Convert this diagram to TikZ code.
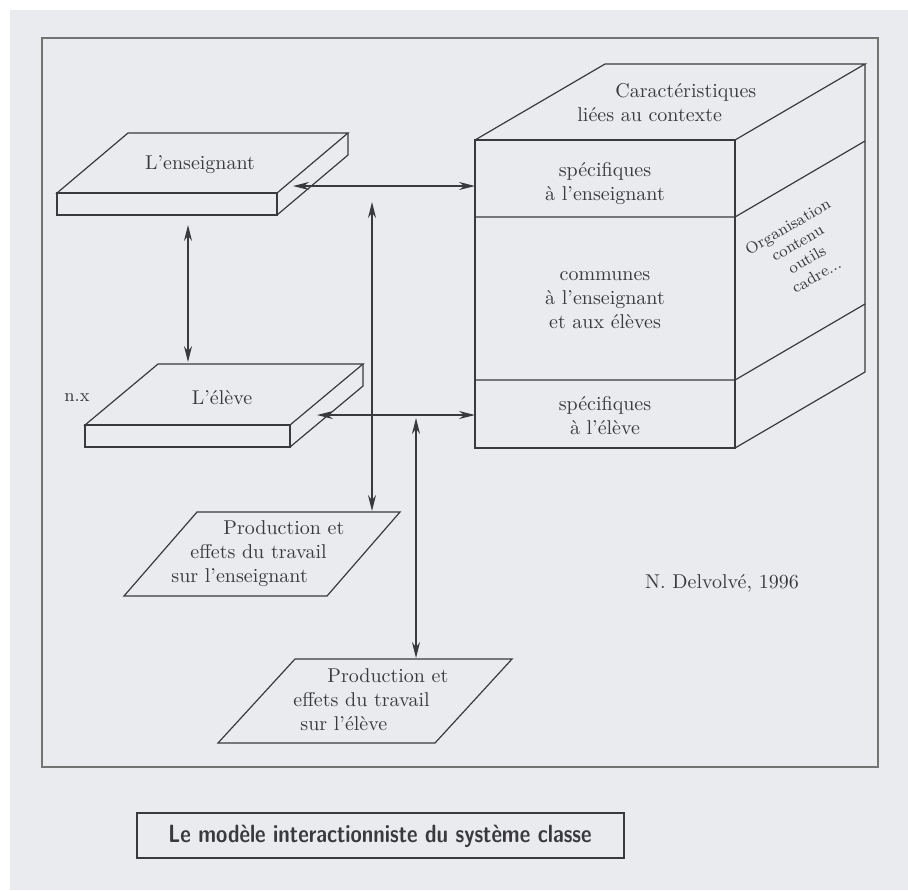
\documentclass[tikz,border=0pt]{standalone}
\usepackage{fontspec}
\usepackage{graphicx}
\usetikzlibrary{arrows.meta}
\definecolor{paper}{RGB}{233,235,238}
\definecolor{ink}{RGB}{58,58,60}

\begin{document}
\begin{tikzpicture}[x=0.5pt, y=-0.5pt,
  every node/.style={inner sep=0pt, text=ink},
  line/.style={draw=ink, line width=0.6pt},
  edge/.style={draw=ink, line width=1.1pt},
  link/.style={draw=ink, line width=0.6pt, <->, >={Stealth[length=8pt,width=4pt]}}]

\useasboundingbox (0,0) rectangle (908,890);
\fill[paper] (10,10) rectangle (908,890);
\draw[black!55, line width=0.9pt] (42,38) rectangle (878,767);

% L'enseignant
\draw[line] (128,133) -- (348,133) -- (277,193) -- (57,193) -- cycle;
\draw[line] (57,193) rectangle (277,215);
\draw[line] (348,133) -- (348,155) -- (277,215);
\draw[edge] (57,193) -- (277,193);
\node (ens) at (200,165) {L'enseignant};

% L'eleve
\draw[line] (158,364) -- (363,364) -- (290,425) -- (85,425) -- cycle;
\draw[line] (85,425) rectangle (290,447);
\draw[line] (363,364) -- (363,386) -- (290,447);
\draw[edge] (85,425) -- (290,425);
\node (elv) at (222,398) {L'élève};
\node (nx) at (77,398) {\small n.x};

% cube
\draw[line] (475,140) rectangle (735,448);
\draw[line] (475,140) -- (605,64) -- (865,64) -- (735,140);
\draw[line] (865,64) -- (865,372) -- (735,448);
\draw[line] (475,217) -- (735,217) -- (865,141);
\draw[line] (475,380) -- (735,380) -- (865,304);
\draw[edge] (475,140) -- (735,140);
\node[align=left, anchor=west] (ctx) at (577,103) {\hspace*{19pt}Caractéristiques\\liées au contexte};
\node[align=center] (spe) at (605,183) {spécifiques\\à l'enseignant};
\node[align=center] (com) at (605,300) {communes\\à l'enseignant\\et aux élèves};
\node[align=center] (spl) at (605,416) {spécifiques\\à l'élève};
\node[align=center, rotate=30, font=\footnotesize] (org) at (802,251) {Organisation\\contenu\\outils\\cadre...};

% productions
\draw[line] (197,512) -- (400,512) -- (327,596) -- (124,596) -- cycle;
\node[align=left, anchor=west] (prodE) at (171,554) {\hspace*{26pt}Production et\\\hspace*{9.5pt}effets du travail\\sur l'enseignant};
\draw[line] (295,659) -- (512,659) -- (435,743) -- (218,743) -- cycle;
\node[align=left, anchor=west] (prodL) at (293,700) {\hspace*{17pt}Production et\\effets du travail\\\hspace*{3.5pt}sur l'élève};

\node (src) at (722,583) {N. Delvolvé, 1996};

% fleches
\coordinate (ens-e) at (293,186);
\coordinate (cube-ens) at (475,186);
\coordinate (ens-s) at (188,225);
\coordinate (elv-n) at (188,362);
\coordinate (elv-e) at (317,415);
\coordinate (cube-elv) at (475,415);
\coordinate (ens-d) at (372,202);
\coordinate (prodE-n) at (372,511);
\coordinate (elv-d) at (416,418);
\coordinate (prodL-n) at (416,658);

\draw[link] (ens-e) -- (cube-ens);
\draw[link] (ens-s) -- (elv-n);
\draw[link] (elv-e) -- (cube-elv);
\draw[link] (ens-d) -- (prodE-n);
\draw[link] (elv-d) -- (prodL-n);

% titre
\draw[line] (137,813) rectangle (624,858);
\node[font=\sffamily\bfseries\fontsize{12.5}{14}\selectfont] (titre) at (380,836)
  {\scalebox{0.82}[1]{Le modèle interactionniste du système classe}};
\end{tikzpicture}
\end{document}
